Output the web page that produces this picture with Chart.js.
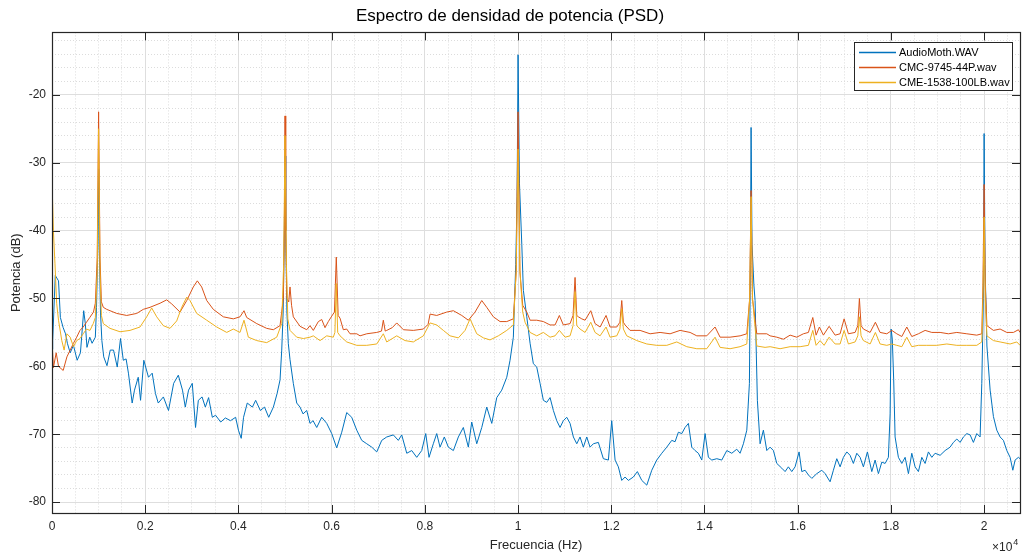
<!DOCTYPE html>
<html>
<head>
<meta charset="utf-8">
<title>Espectro de densidad de potencia (PSD)</title>
<script src="https://cdn.jsdelivr.net/npm/chart.js@4.4.1/dist/chart.umd.min.js"></script>
<style>
	html, body { margin: 0; padding: 0; background: #fff; }
	#chart-canvas { display: block; }
</style>
</head>
<body>
<canvas id="chart-canvas" width="1026" height="556"></canvas>
<script>
'use strict';

var FONT 		= "'Liberation Sans', Arial, Helvetica, sans-serif";
var AXIS_COLOR 	= '#262626';

var TITLE 		= 'Espectro de densidad de potencia (PSD)';
var X_LABEL 	= 'Frecuencia (Hz)';
var Y_LABEL 	= 'Potencia (dB)';
var X_EXPONENT 	= 4;

var SERIES_NAMES  = ['AudioMoth.WAV', 'CMC-9745-44P.wav', 'CME-1538-100LB.wav'];
var SERIES_COLORS = ['#0072BD', '#D95319', '#EDB120'];

// limites de los ejes, marcas y etiquetas
var X_MIN = 0, X_MAX = 20770, X_MINOR = 500;
var Y_MIN = -81.6, Y_MAX = -10.8, Y_MINOR = 2;
var X_TICKS 		= [0, 2000, 4000, 6000, 8000, 10000, 12000, 14000, 16000, 18000, 20000];
var X_TICK_LABELS 	= ['0', '0.2', '0.4', '0.6', '0.8', '1', '1.2', '1.4', '1.6', '1.8', '2'];
var Y_TICKS 		= [-80, -70, -60, -50, -40, -30, -20];
var Y_TICK_LABELS 	= ['-80', '-70', '-60', '-50', '-40', '-30', '-20'];

// [frecuencia (Hz), potencia (dB)]
var audioMoth = [[0,-57.5],[15,-56.2],[70,-46.6],[140,-47.4],[180,-52.8],[240,-54.3],[290,-55.2],[330,-56.6],[390,-58],[460,-56.9],[540,-59.1],[610,-58],[680,-51.8],[715,-53.7],[750,-57.2],[810,-55.7],[860,-56.6],[930,-55.7],[955,-51.3],[985,-42],[1000,-30.9],[1015,-42],[1040,-52],[1070,-56.2],[1110,-58.6],[1180,-59.9],[1250,-57.6],[1320,-57.6],[1400,-60.1],[1470,-55.9],[1530,-59.1],[1590,-58.9],[1640,-61],[1720,-65.4],[1770,-63.5],[1850,-61.6],[1900,-65],[1970,-59.1],[2070,-61.6],[2150,-61],[2220,-64],[2280,-65.4],[2390,-64.5],[2500,-66.5],[2610,-62.5],[2710,-61.3],[2800,-63.5],[2860,-66],[2930,-63.5],[3010,-62.5],[3080,-69],[3140,-65],[3220,-64.5],[3290,-66],[3360,-64.6],[3440,-67.5],[3510,-67.2],[3620,-68.2],[3720,-67.6],[3830,-68],[3940,-67.5],[4000,-69.4],[4060,-70.6],[4110,-67.5],[4190,-65.4],[4300,-66],[4370,-65],[4470,-66.5],[4560,-66],[4650,-67.5],[4750,-66],[4830,-64],[4893,-62],[4929,-57.6],[4960,-52],[4985,-40],[5000,-29],[5015,-40],[5040,-52],[5070,-56.6],[5107,-59],[5178,-62.5],[5251,-65.4],[5322,-66],[5386,-67],[5466,-66.5],[5536,-68.4],[5601,-68],[5680,-69],[5787,-67.5],[5895,-68.4],[6002,-69.9],[6109,-72],[6217,-69.7],[6324,-66.8],[6431,-67.5],[6539,-69.4],[6646,-70.9],[6753,-71.4],[6861,-71.9],[6968,-72.6],[7075,-70.9],[7182,-70.4],[7324,-70.1],[7431,-70.9],[7504,-70.1],[7612,-72.8],[7719,-72.4],[7826,-73.4],[7933,-72.4],[8019,-69.9],[8090,-73.4],[8182,-71.4],[8255,-69.9],[8326,-71.9],[8418,-70.4],[8504,-71.9],[8612,-72.4],[8719,-70.4],[8826,-69],[8933,-71.9],[9006,-68.2],[9114,-71.4],[9221,-69],[9328,-66],[9436,-68.4],[9543,-64.6],[9650,-63.5],[9758,-61.6],[9828,-59.1],[9899,-55.7],[9950,-45],[9980,-35],[10000,-14.1],[10030,-33],[10080,-42],[10114,-48.8],[10187,-52.7],[10258,-56.6],[10328,-59.6],[10401,-60.1],[10472,-62.5],[10543,-65],[10616,-65.3],[10687,-64.6],[10758,-66.5],[10830,-68],[10901,-69],[10972,-68],[11045,-67.5],[11116,-68.4],[11187,-70.4],[11260,-71.4],[11330,-70.4],[11401,-71.9],[11474,-70.4],[11545,-71.9],[11616,-71.4],[11723,-71.2],[11830,-73.6],[11938,-73.8],[12010,-68],[12082,-73.8],[12152,-74.8],[12225,-76.8],[12296,-76.3],[12367,-76.8],[12474,-76.3],[12560,-75.5],[12655,-76.8],[12762,-77.5],[12869,-75.3],[12976,-73.8],[13084,-72.8],[13191,-71.9],[13298,-70.9],[13369,-71.1],[13440,-69.7],[13513,-69.9],[13584,-69],[13655,-68.4],[13727,-71.9],[13798,-72.4],[13869,-72.8],[13942,-73.8],[14013,-69.9],[14084,-73.4],[14157,-73.8],[14264,-73.6],[14371,-73.8],[14479,-72.4],[14586,-72.8],[14693,-72.2],[14764,-72.8],[14835,-71.4],[14908,-69.4],[14964,-62.5],[14985,-45],[15000,-24.8],[15020,-42],[15060,-48],[15086,-50.3],[15135,-65],[15193,-71.4],[15264,-69.4],[15337,-72.4],[15408,-71.9],[15479,-72.4],[15552,-74.3],[15659,-75],[15730,-75.5],[15800,-74.8],[15873,-75.5],[15944,-74.8],[16030,-72.6],[16088,-75.5],[16159,-75.3],[16230,-76],[16303,-76.5],[16410,-75.8],[16517,-75.3],[16588,-75.8],[16695,-77],[16766,-75.3],[16839,-73.6],[16910,-74.8],[16981,-73.4],[17054,-72.6],[17124,-73.1],[17195,-74.3],[17268,-72.8],[17339,-73.4],[17410,-74.8],[17496,-72.6],[17590,-75.5],[17661,-73.8],[17732,-75.8],[17805,-74.1],[17876,-74.3],[17946,-73.4],[17983,-67],[18005,-54.5],[18030,-56],[18060,-62],[18090,-70.4],[18161,-73.4],[18234,-74.3],[18305,-73.4],[18376,-75.8],[18448,-72.8],[18519,-74.8],[18590,-75.5],[18663,-73.4],[18734,-74.3],[18805,-72.6],[18878,-73.4],[18948,-72.8],[19056,-73.1],[19163,-72.4],[19270,-71.9],[19341,-71.2],[19414,-70.7],[19485,-71.2],[19556,-70.4],[19629,-69.9],[19700,-70.1],[19770,-71.2],[19843,-69.9],[19914,-70.4],[19950,-62.5],[19985,-50],[20000,-25.7],[20020,-45],[20060,-57],[20129,-63.5],[20200,-67.4],[20272,-69.4],[20343,-70.4],[20414,-70.9],[20487,-72.4],[20558,-73.4],[20616,-75.3],[20665,-73.8],[20736,-73.4],[20770,-73.6]];

var cmc9745 = [[0,-56],[30,-60.2],[90,-58],[140,-60],[240,-60.6],[320,-58.6],[390,-57.6],[460,-56.6],[530,-55.7],[600,-54.7],[670,-54.2],[740,-53.5],[810,-52.8],[890,-52],[930,-50.7],[970,-44],[1000,-22.5],[1030,-44],[1060,-50.5],[1101,-51.3],[1174,-51.6],[1388,-52.2],[1603,-52.5],[1818,-52.2],[1959,-51.6],[2103,-51.3],[2318,-50.7],[2461,-50.2],[2569,-50.8],[2747,-52],[2891,-50.3],[3032,-48.3],[3118,-47.4],[3212,-48.3],[3320,-50.3],[3461,-51.6],[3676,-52.7],[3891,-53],[4034,-52.7],[4120,-51.8],[4178,-52.8],[4393,-53.7],[4607,-54.4],[4749,-54.6],[4893,-54],[4964,-50],[4985,-40],[5000,-23.1],[5015,-40],[5040,-50],[5080,-50.5],[5107,-48.3],[5140,-51],[5178,-52.7],[5322,-54.1],[5466,-54.6],[5536,-54],[5607,-54.7],[5715,-53.4],[5788,-53.1],[5858,-54.3],[5929,-53.4],[6002,-52.6],[6060,-52],[6100,-43.9],[6140,-52.5],[6180,-52.9],[6251,-54.6],[6324,-54.5],[6395,-55.2],[6539,-55.2],[6609,-55.5],[6753,-55.2],[6968,-55],[7070,-54.8],[7109,-53.2],[7150,-54.8],[7182,-54.7],[7300,-54.3],[7397,-53.6],[7539,-54.6],[7753,-54.7],[7968,-54.5],[8070,-53.8],[8112,-52.3],[8255,-52.5],[8470,-52],[8612,-51.8],[8792,-52.5],[8933,-53.2],[9077,-52],[9221,-50.3],[9328,-51.3],[9470,-52.7],[9614,-53.4],[9758,-53.4],[9899,-53],[9960,-46],[10000,-22.5],[10040,-46],[10100,-51],[10187,-52],[10258,-53.2],[10401,-53.2],[10543,-53.4],[10687,-53.9],[10794,-53.9],[10886,-52.5],[10972,-53.9],[11116,-53.7],[11180,-52.5],[11223,-46.9],[11260,-52.5],[11294,-52.7],[11367,-53],[11438,-53.2],[11560,-51.8],[11652,-53.7],[11760,-54.2],[11888,-52.5],[11974,-54.2],[12118,-54.2],[12185,-53.5],[12225,-50.3],[12260,-53.5],[12296,-53.9],[12403,-54.7],[12618,-54.7],[12833,-55.2],[13047,-55],[13262,-55.2],[13476,-54.7],[13691,-55],[13835,-55.5],[14049,-55.5],[14227,-54.2],[14335,-55.7],[14549,-55.7],[14764,-55.5],[14908,-55.2],[14970,-50],[15000,-34.1],[15030,-50],[15122,-55.2],[15337,-55.2],[15408,-55.5],[15552,-55.7],[15693,-56],[15837,-55.4],[15980,-55.7],[16122,-55.2],[16230,-55],[16324,-52.8],[16395,-55.4],[16466,-54.2],[16552,-55.4],[16674,-54.1],[16803,-55.4],[16910,-55.2],[16996,-53],[17088,-55.2],[17232,-55],[17290,-54],[17324,-50],[17360,-54],[17410,-54.5],[17554,-55],[17667,-53.5],[17768,-55],[17912,-55.2],[18019,-54.7],[18126,-55.2],[18234,-55.6],[18341,-54.2],[18448,-55.6],[18590,-55.2],[18734,-54.7],[18878,-55],[19056,-55],[19234,-55.2],[19414,-55],[19629,-55.2],[19843,-55.4],[19950,-55.2],[19975,-48],[20000,-33.2],[20025,-48],[20060,-54],[20200,-54.7],[20343,-54.5],[20487,-55],[20629,-55],[20736,-54.6],[20770,-55]];

var cme1538 = [[0,-32.6],[30,-40],[64,-44.9],[100,-50.7],[140,-53.2],[210,-56.2],[260,-57.6],[320,-55.2],[390,-55.7],[460,-57.1],[530,-56.2],[600,-55.9],[670,-55.2],[740,-54.5],[815,-54.7],[885,-53.7],[930,-52.8],[970,-46],[1000,-25],[1030,-46],[1060,-52.5],[1101,-53.7],[1245,-54.4],[1459,-54.9],[1674,-54.7],[1888,-54.2],[2032,-52.7],[2139,-51.4],[2247,-52.7],[2388,-54],[2532,-54.4],[2676,-53.3],[2783,-51.3],[2891,-49.8],[2961,-50.3],[3105,-52.2],[3320,-53.2],[3534,-54.2],[3749,-55],[3891,-54.5],[4034,-55],[4120,-53.2],[4213,-55.7],[4393,-56.2],[4607,-56.5],[4822,-55.7],[4929,-53.7],[4970,-45],[5000,-26],[5030,-45],[5060,-53],[5107,-54.7],[5251,-55.7],[5393,-55.9],[5536,-55.7],[5607,-55.5],[5751,-56.2],[5895,-55.5],[6036,-55.7],[6070,-55],[6100,-47.8],[6130,-55],[6180,-55.5],[6324,-56.4],[6539,-56.9],[6753,-56.9],[6968,-56.7],[7109,-55.2],[7182,-56.4],[7397,-55.5],[7575,-56.2],[7753,-56.4],[7968,-55.5],[8112,-53.6],[8255,-53.9],[8397,-54.7],[8541,-55.5],[8719,-55.8],[8863,-54.7],[8970,-53],[9114,-55.2],[9256,-55.8],[9399,-56.1],[9577,-55.5],[9758,-54.7],[9899,-53.9],[9960,-46],[10000,-28],[10040,-46],[10100,-52],[10150,-53.5],[10258,-55],[10401,-55.5],[10543,-55],[10687,-55.7],[10794,-55.5],[10886,-54.7],[11009,-55.7],[11116,-55.5],[11180,-54],[11223,-49],[11260,-54],[11330,-54.5],[11438,-55],[11560,-53.5],[11652,-55],[11760,-55.5],[11888,-54.2],[11974,-55.7],[12118,-55.5],[12185,-54.5],[12225,-51.5],[12260,-54.5],[12332,-55.5],[12547,-56.2],[12762,-56.7],[12976,-56.9],[13191,-56.9],[13406,-56.4],[13620,-57.1],[13835,-57.4],[14049,-57.4],[14227,-55.7],[14335,-57.2],[14549,-57.4],[14764,-57.1],[14908,-56.7],[14970,-50],[15000,-35],[15030,-50],[15122,-57],[15300,-57.2],[15408,-57.1],[15622,-57.4],[15837,-57.1],[16052,-57.1],[16230,-56.9],[16324,-54.7],[16395,-56.9],[16481,-56.2],[16567,-56.9],[16674,-55.7],[16803,-56.7],[16910,-56.7],[16996,-54.7],[17088,-56.7],[17232,-56.4],[17290,-55.5],[17324,-52.7],[17360,-55.5],[17410,-56.2],[17554,-56.7],[17667,-55],[17768,-56.7],[17912,-56.9],[18019,-56.7],[18126,-56.9],[18234,-57.1],[18341,-55.7],[18448,-57.1],[18590,-56.9],[18770,-56.9],[18985,-56.9],[19200,-56.7],[19414,-56.9],[19629,-56.9],[19843,-56.9],[19950,-56.4],[19975,-50],[20000,-38],[20025,-50],[20060,-55.5],[20200,-56.2],[20343,-56.4],[20558,-56.7],[20701,-56.4],[20770,-56.9]];

var SERIES = [audioMoth, cmc9745, cme1538];

// marcas principales fijas
function useTicks(values) {
	return function(scale) {
		scale.ticks = values.map(function(v) { return {value: v}; });
	};
}

// rejilla secundaria (punteada) entre las marcas principales
function minorTicks(step, majors) {
	return function(scale) {
		var out = [];
		var first = Math.ceil(scale.min / step) * step;
		for (var v = first; v <= scale.max + 1e-9; v += step) {
			var isMajor = majors.some(function(m) { return Math.abs(v - m) < 1e-6; });
			if (!isMajor) out.push({value: v});
		}
		scale.ticks = out;
	};
}

// caja del eje con marcas hacia dentro (estilo MATLAB) y el "x10^4"
var axesBox = {
	id: 'axesBox',
	afterDatasetsDraw: function(chart) {
		var ctx = chart.ctx, a = chart.chartArea;
		var len = 8;
		ctx.save();
		ctx.strokeStyle = AXIS_COLOR;
		ctx.lineWidth = 1;
		ctx.beginPath();
		chart.scales.x.ticks.forEach(function(t) {
			var px = Math.round(chart.scales.x.getPixelForValue(t.value)) + 0.5;
			ctx.moveTo(px, a.bottom); ctx.lineTo(px, a.bottom - len);
			ctx.moveTo(px, a.top); ctx.lineTo(px, a.top + len);
		});
		chart.scales.y.ticks.forEach(function(t) {
			var py = Math.round(chart.scales.y.getPixelForValue(t.value)) + 0.5;
			ctx.moveTo(a.left, py); ctx.lineTo(a.left + len, py);
			ctx.moveTo(a.right, py); ctx.lineTo(a.right - len, py);
		});
		ctx.stroke();
		ctx.lineWidth = 1.2;
		ctx.strokeRect(Math.round(a.left) + 0.5, Math.round(a.top) + 0.5,
			Math.round(a.right - a.left), Math.round(a.bottom - a.top));

		ctx.fillStyle = AXIS_COLOR;
		ctx.textBaseline = 'alphabetic';
		ctx.textAlign = 'left';
		ctx.font = '12px ' + FONT;
		var ex = a.right - 28;
		ctx.fillText('\u00d710', ex, chart.height - 5);
		var w = ctx.measureText('\u00d710').width;
		ctx.font = '9px ' + FONT;
		ctx.fillText(String(X_EXPONENT), ex + w + 1, chart.height - 11);
		ctx.restore();
	}
};

var legendBox = {
	id: 'legendBox',
	afterDraw: function(chart) {
		var ctx = chart.ctx, a = chart.chartArea;
		var w = 158, h = 48;
		var x0 = Math.round(a.right - 8 - w), y0 = Math.round(a.top + 10);
		ctx.save();
		ctx.fillStyle = '#fff';
		ctx.fillRect(x0, y0, w, h);
		ctx.strokeStyle = AXIS_COLOR;
		ctx.lineWidth = 1;
		ctx.strokeRect(x0 + 0.5, y0 + 0.5, w, h);
		ctx.font = '11px ' + FONT;
		ctx.textBaseline = 'middle';
		ctx.textAlign = 'left';
		chart.data.datasets.forEach(function(ds, i) {
			var yy = y0 + 10.5 + i * 15;
			ctx.strokeStyle = ds.borderColor;
			ctx.lineWidth = 1.3;
			ctx.beginPath();
			ctx.moveTo(x0 + 5, yy);
			ctx.lineTo(x0 + 42, yy);
			ctx.stroke();
			ctx.fillStyle = '#000';
			ctx.fillText(ds.label, x0 + 45, yy);
		});
		ctx.restore();
	}
};

var datasets = SERIES.map(function(points, i) {
	return {
		label: SERIES_NAMES[i],
		data: points.map(function(p) { return {x: p[0], y: p[1]}; }),
		borderColor: SERIES_COLORS[i],
		backgroundColor: SERIES_COLORS[i],
		borderWidth: 1,
		pointRadius: 0,
		tension: 0,
		order: SERIES.length - i		// el primero se pinta debajo, como en MATLAB
	};
});

var ctx = document.getElementById('chart-canvas');

var myChart = new Chart(ctx, {
	type: 'line',
	data: { datasets: datasets },
	options: {
		responsive: false,
		animation: false,
		devicePixelRatio: 1,
		layout: { padding: { left: 0, right: 6, top: 0, bottom: 0 } },
		plugins: {
			legend: { display: false },
			tooltip: { enabled: false },
			title: {
				display: true,
				text: TITLE,
				color: '#000',
				font: { family: FONT, size: 17, weight: 'normal' },
				padding: { top: 6, bottom: 6 }
			}
		},
		scales: {
			x: {
				type: 'linear',
				position: 'bottom',
				min: X_MIN, max: X_MAX,
				afterBuildTicks: useTicks(X_TICKS),
				afterFit: function(s) { s.height = 43; },
				ticks: {
					autoSkip: false,
					maxRotation: 0,
					padding: 6,
					color: AXIS_COLOR,
					font: { family: FONT, size: 12 },
					callback: function(v, i) { return X_TICK_LABELS[i]; }
				},
				grid: { color: '#dedede', lineWidth: 1, drawTicks: false },
				border: { display: false },
				title: {
					display: true, text: X_LABEL, color: AXIS_COLOR,
					font: { family: FONT, size: 13 },
					padding: { top: 0, bottom: 3 }
				}
			},
			xMinor: {
				type: 'linear',
				position: 'bottom',
				min: X_MIN, max: X_MAX,
				afterBuildTicks: minorTicks(X_MINOR, X_TICKS),
				afterFit: function(s) { s.height = 0; },
				ticks: { display: false },
				grid: { color: '#dcdcdc', lineWidth: 1, drawTicks: false },
				border: { display: false, dash: [1, 2] }
			},
			y: {
				type: 'linear',
				position: 'left',
				min: Y_MIN, max: Y_MAX,
				afterBuildTicks: useTicks(Y_TICKS),
				afterFit: function(s) { s.width = 52; },
				ticks: {
					autoSkip: false,
					padding: 6,
					color: AXIS_COLOR,
					font: { family: FONT, size: 12 },
					callback: function(v, i) { return Y_TICK_LABELS[i]; }
				},
				grid: { color: '#dedede', lineWidth: 1, drawTicks: false },
				border: { display: false },
				title: {
					display: true, text: Y_LABEL, color: AXIS_COLOR,
					font: { family: FONT, size: 13 },
					padding: { top: 9, bottom: 0 }
				}
			},
			yMinor: {
				type: 'linear',
				position: 'left',
				min: Y_MIN, max: Y_MAX,
				afterBuildTicks: minorTicks(Y_MINOR, Y_TICKS),
				afterFit: function(s) { s.width = 0; },
				ticks: { display: false },
				grid: { color: '#dcdcdc', lineWidth: 1, drawTicks: false },
				border: { display: false, dash: [1, 2] }
			}
		}
	},
	plugins: [axesBox, legendBox]
});
</script>
</body>
</html>
